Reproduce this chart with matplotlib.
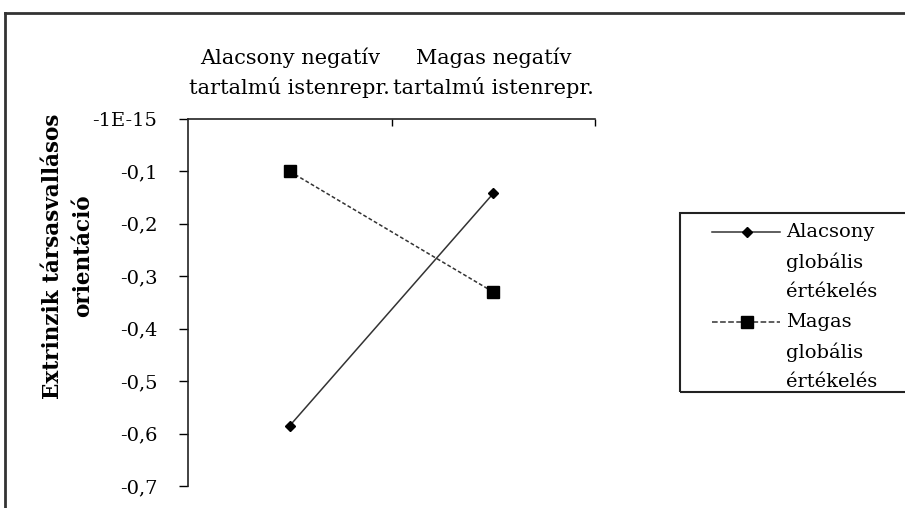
import matplotlib
matplotlib.use('Agg')
import matplotlib.pyplot as plt
from matplotlib.lines import Line2D
from matplotlib.patches import Rectangle

# data
categories = ['Alacsony negatív\ntartalmú istenrepr.', 'Magas negatív\ntartalmú istenrepr.']
alacsony = [-0.585, -0.142]
magas = [-0.100, -0.330]
series_names = ['Alacsony\nglobális\nértékelés', 'Magas\nglobális\nértékelés']
ytick_vals = [0, -0.1, -0.2, -0.3, -0.4, -0.5, -0.6, -0.7]
ytick_labels = ['-1E-15', '-0,1', '-0,2', '-0,3', '-0,4', '-0,5', '-0,6', '-0,7']
ylabel = 'Extrinzik társasvallásos\norientáció'

plt.rc('font', family=['DejaVu Serif'])

W, H = 905, 508
fig = plt.figure(figsize=(W / 100, H / 100), dpi=100)
ax = fig.add_axes([188 / W, 1 - 486 / H, (595 - 188) / W, (486 - 119) / H])

x = [0.5, 1.5]
styles = [dict(ls='-', marker='D', markersize=5),
          dict(ls=(0, (2.5, 1.5)), marker='s', markersize=8)]
lines = []
for vals, st in zip([alacsony, magas], styles):
    ln, = ax.plot(x, vals, color='#333333', lw=1.1, markerfacecolor='black',
                  markeredgecolor='black', **st)
    lines.append(ln)

ax.set_xlim(0, 2)
ax.set_ylim(-0.7, 0)
ax.set_yticks(ytick_vals)
ax.set_yticklabels(ytick_labels, fontsize=14)
ax.tick_params(axis='y', direction='out', length=6.5, width=1, pad=15.5)

# category axis drawn along the top
ax.xaxis.set_ticks_position('top')
ax.set_xticks([1, 2])
ax.set_xticklabels(['', ''])
ax.set_xticks(x, minor=True)
ax.set_xticklabels(categories, minor=True, fontsize=15, linespacing=1.55)
ax.tick_params(axis='x', which='major', direction='in', length=5, width=1)
ax.tick_params(axis='x', which='minor', length=0, pad=15)

for s in ['bottom', 'right']:
    ax.spines[s].set_visible(False)
for s in ['top', 'left']:
    ax.spines[s].set_color('#222222')
    ax.spines[s].set_linewidth(1.2)

fig.text(68 / W, 1 - 256 / H, ylabel, rotation=90, ha='center', va='center',
         fontsize=15.5, fontweight='bold', linespacing=1.45)

# legend, frame runs off the right edge like in the original
fig.patches.append(Rectangle((680 / W, 1 - 392 / H), 0.4, (392 - 213) / H,
                             transform=fig.transFigure, fill=False,
                             edgecolor='#222222', lw=1.5))
for ln, name, yy in zip(lines, series_names, [232, 322]):
    fig.add_artist(Line2D([712 / W, 780 / W], [1 - yy / H, 1 - yy / H],
                          transform=fig.transFigure, color='#333333', lw=1.1,
                          ls=ln.get_linestyle()))
    fig.add_artist(Line2D([747 / W], [1 - yy / H], transform=fig.transFigure,
                          marker=ln.get_marker(), markersize=ln.get_markersize(),
                          color='black', ls='none'))
    fig.text(786 / W, 1 - (yy - 9) / H, name, ha='left', va='top',
             fontsize=14, linespacing=1.75)

# outer chart border
fig.add_artist(Line2D([5 / W, 5 / W], [0, 1 - 13 / H], transform=fig.transFigure,
                      color='#333333', lw=2))
fig.add_artist(Line2D([5 / W, 1], [1 - 13 / H, 1 - 13 / H], transform=fig.transFigure,
                      color='#333333', lw=2))

fig.savefig('out.png', dpi=100)
